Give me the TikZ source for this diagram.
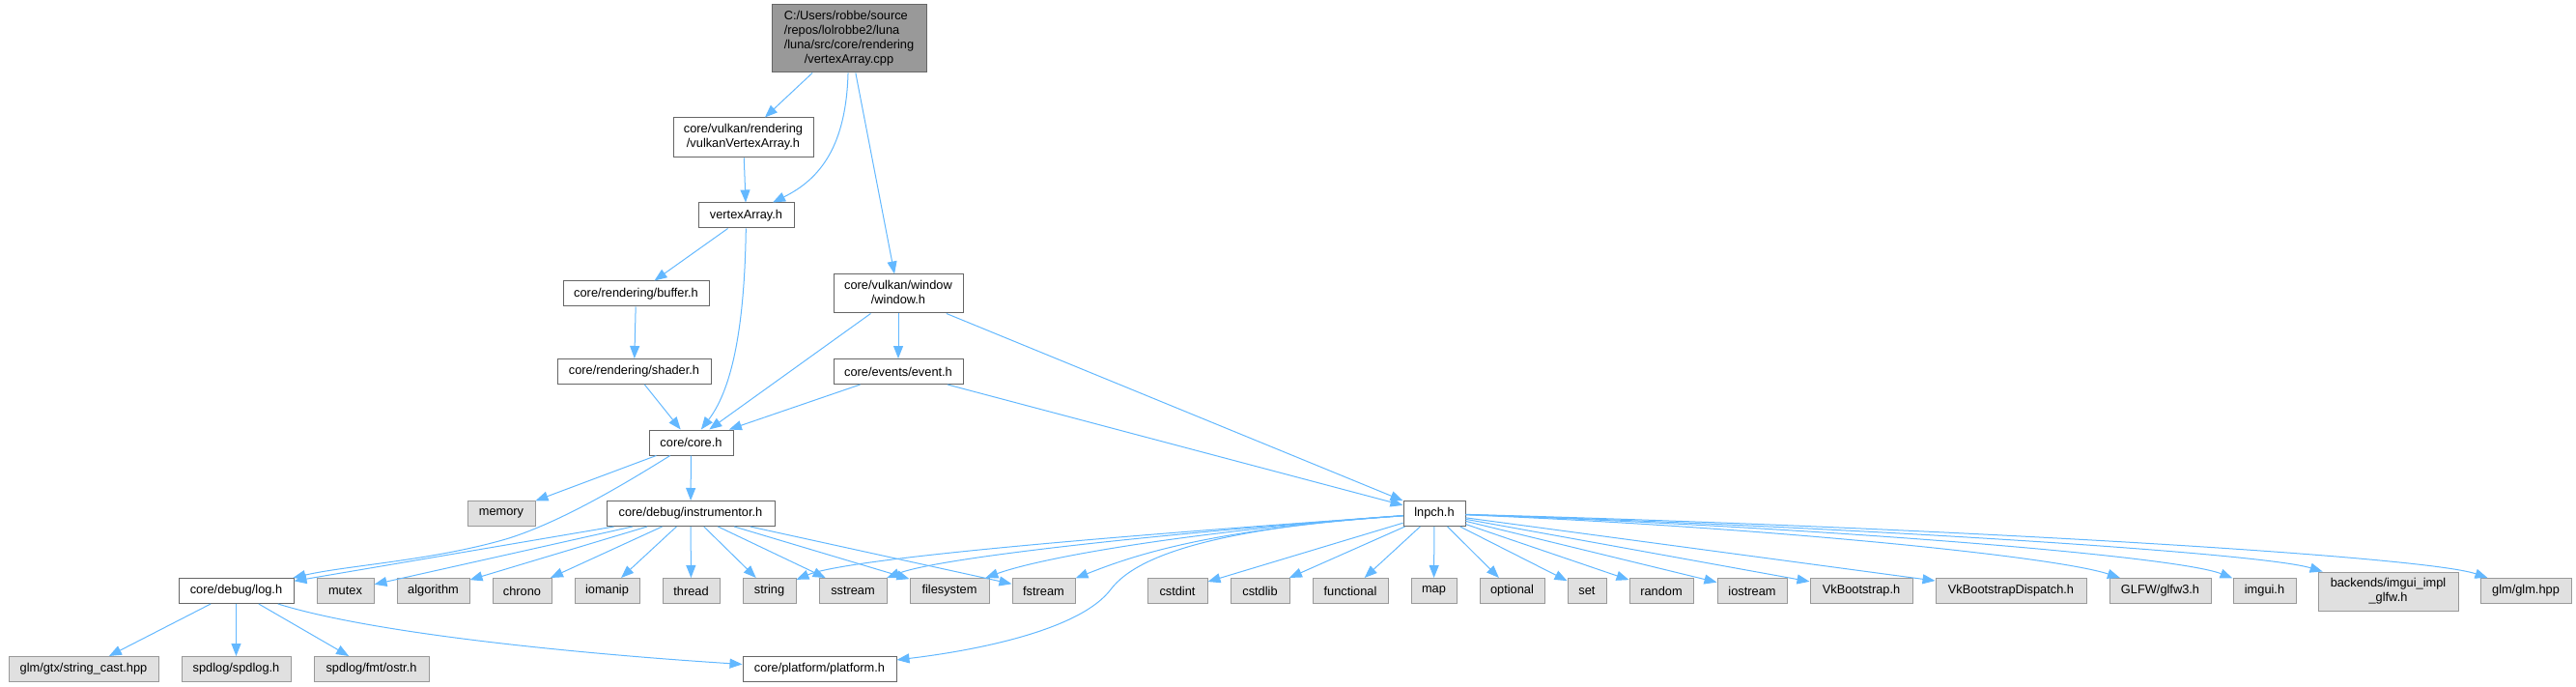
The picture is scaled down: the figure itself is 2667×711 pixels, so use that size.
\documentclass[tikz,border=0pt]{standalone}
\usepackage{fontspec}
\setmainfont{Liberation Sans}
\usetikzlibrary{arrows.meta}

\definecolor{edgeblue}{HTML}{63B8FF}
\definecolor{boxline}{HTML}{666666}
\definecolor{extline}{HTML}{999999}
\definecolor{extfill}{HTML}{E0E0E0}
\definecolor{srcfill}{HTML}{999999}

\tikzset{
  localinc/.style={draw=boxline, fill=white, line width=1pt, inner sep=0pt,
    minimum height=26pt, font=\fontsize{12.8}{15}\selectfont},
  sysinc/.style={localinc, draw=extline, fill=extfill},
  srcfile/.style={localinc, fill=srcfill},
  dep/.style={draw=edgeblue, line width=1pt, -{Triangle[length=13pt,width=10pt]}},
}

\begin{document}
\begin{tikzpicture}[x=1pt, y=-1pt]
    \useasboundingbox (0,0) rectangle (2667,711);

    % 源文件与项目内头文件
    \node[srcfile, minimum width=160pt, minimum height=70pt] (root) at (879,40)
      {\begin{tabular}{@{}l@{}}C:/Users/robbe/source\\/repos/lolrobbe2/luna\\/luna/src/core/rendering\\\multicolumn{1}{@{}c@{}}{/vertexArray.cpp}\end{tabular}};
    \node[localinc, minimum width=145pt, minimum height=41pt] (vva) at (769.5,142.5)
      {\begin{tabular}{@{}l@{}}core/vulkan/rendering\\\multicolumn{1}{@{}c@{}}{/vulkanVertexArray.h}\end{tabular}};
    \node[localinc, minimum width=99pt] (va) at (772.5,223) {vertexArray.h};
    \node[localinc, minimum width=151pt] (buf) at (658.5,304) {core/rendering/buffer.h};
    \node[localinc, minimum width=159pt] (shd) at (656.5,384.5) {core/rendering/shader.h};
    \node[localinc, minimum width=134pt, minimum height=40pt] (win) at (930,304)
      {\begin{tabular}{@{}l@{}}core/vulkan/window\\\multicolumn{1}{@{}c@{}}{/window.h}\end{tabular}};
    \node[localinc, minimum width=134pt] (evt) at (930,384.5) {core/events/event.h};
    \node[localinc, minimum width=87pt] (core) at (715.5,458) {core/core.h};
    \node[sysinc, minimum width=70pt] (mem) at (519,531.5) {memory};
    \node[localinc, minimum width=174pt] (instr) at (715,531.5) {core/debug/instrumentor.h};
    \node[localinc, minimum width=64pt] (lnpch) at (1485,531.5) {lnpch.h};

    % 第二层头文件
    \node[localinc, minimum width=119pt] (log) at (244.5,611.5) {core/debug/log.h};
    \node[sysinc, minimum width=59pt] (mutex) at (357.5,611.5) {mutex};
    \node[sysinc, minimum width=75pt] (algo) at (448.5,611.5) {algorithm};
    \node[sysinc, minimum width=61pt] (chrono) at (540.5,611.5) {chrono};
    \node[sysinc, minimum width=67pt] (ioman) at (628.5,611.5) {iomanip};
    \node[sysinc, minimum width=59pt] (thread) at (715.5,611.5) {thread};
    \node[sysinc, minimum width=55pt] (str) at (796.5,611.5) {string};
    \node[sysinc, minimum width=70pt] (sstr) at (883,611.5) {sstream};
    \node[sysinc, minimum width=82pt] (fsys) at (983,611.5) {filesystem};
    \node[sysinc, minimum width=65pt] (fstr) at (1080.5,611.5) {fstream};
    \node[sysinc, minimum width=62pt] (cint) at (1219,611.5) {cstdint};
    \node[sysinc, minimum width=61pt] (clib) at (1304.5,611.5) {cstdlib};
    \node[sysinc, minimum width=78pt] (func) at (1398,611.5) {functional};
    \node[sysinc, minimum width=47pt] (stdmap) at (1484.5,611.5) {map};
    \node[sysinc, minimum width=67pt] (optl) at (1565.5,611.5) {optional};
    \node[sysinc, minimum width=40pt] (stdset) at (1643,611.5) {set};
    \node[sysinc, minimum width=66pt] (rnd) at (1720,611.5) {random};
    \node[sysinc, minimum width=72pt] (iostr) at (1814,611.5) {iostream};
    \node[sysinc, minimum width=106pt] (vkb) at (1927,611.5) {VkBootstrap.h};
    \node[sysinc, minimum width=156pt] (vkbd) at (2082,611.5) {VkBootstrapDispatch.h};
    \node[sysinc, minimum width=105pt] (glfw) at (2236.5,611.5) {GLFW/glfw3.h};
    \node[sysinc, minimum width=65pt] (imgui) at (2344.5,611.5) {imgui.h};
    \node[sysinc, minimum width=145pt, minimum height=40pt] (imglfw) at (2472.5,612)
      {\begin{tabular}{@{}l@{}}backends/imgui\_impl\\\multicolumn{1}{@{}c@{}}{\_glfw.h}\end{tabular}};
    \node[sysinc, minimum width=94pt] (glm) at (2615,611.5) {glm/glm.hpp};

    % 最底层
    \node[sysinc, minimum width=155pt] (gtx) at (86.5,692.5) {glm/gtx/string\_cast.hpp};
    \node[sysinc, minimum width=113pt] (spd) at (244.5,692.5) {spdlog/spdlog.h};
    \node[sysinc, minimum width=119pt] (ostr) at (384.5,692.5) {spdlog/fmt/ostr.h};
    \node[localinc, minimum width=159pt] (plat) at (848.5,692.5) {core/platform/platform.h};

    % 上部依赖
    \draw[dep] (root) -- (vva);
    \draw[dep] (root) .. controls (876,150) and (850,185) .. (va);
    \draw[dep] (root) -- (win);
    \draw[dep] (vva) -- (va);
    \draw[dep] (va) -- (buf);
    \draw[dep] (va) .. controls (771,330) and (760,400) .. (core);
    \draw[dep] (buf) -- (shd);
    \draw[dep] (shd) -- (core);
    \draw[dep] (win) -- (core);
    \draw[dep] (win) -- (evt);
    \draw[dep] (win) -- (lnpch);
    \draw[dep] (evt) -- (core);
    \draw[dep] (evt) -- (lnpch);

    % core.h 与 instrumentor.h
    \draw[dep] (core) -- (mem);
    \draw[dep] (core) .. controls (640,505) and (580,540) .. (527,557)
                      .. controls (450,580) and (360,585) .. (log);
    \draw[dep] (core) -- (instr);
    \draw[dep] (instr) -- (log);
    \draw[dep] (instr) -- (mutex);
    \draw[dep] (instr) -- (algo);
    \draw[dep] (instr) -- (chrono);
    \draw[dep] (instr) -- (ioman);
    \draw[dep] (instr) -- (thread);
    \draw[dep] (instr) -- (str);
    \draw[dep] (instr) -- (sstr);
    \draw[dep] (instr) -- (fsys);
    \draw[dep] (instr) -- (fstr);

    % log.h
    \draw[dep] (log) -- (gtx);
    \draw[dep] (log) -- (spd);
    \draw[dep] (log) -- (ostr);
    \draw[dep] (log) .. controls (400,660) and (650,680) .. (plat);

    % lnpch.h
    \draw[dep] (lnpch) .. controls (1250,548) and (884,575) .. (str);
    \draw[dep] (lnpch) .. controls (1250,548) and (978,575) .. (sstr);
    \draw[dep] (lnpch) .. controls (1250,548) and (1084,575) .. (fsys);
    \draw[dep] (lnpch) .. controls (1250,548) and (1173,575) .. (fstr);
    \draw[dep] (lnpch) .. controls (1280,545) and (1180,570) .. (1150,610)
                       .. controls (1120,650) and (1020,672) .. (plat);
    \draw[dep] (lnpch) -- (cint);
    \draw[dep] (lnpch) -- (clib);
    \draw[dep] (lnpch) -- (func);
    \draw[dep] (lnpch) -- (stdmap);
    \draw[dep] (lnpch) -- (optl);
    \draw[dep] (lnpch) -- (stdset);
    \draw[dep] (lnpch) -- (rnd);
    \draw[dep] (lnpch) -- (iostr);
    \draw[dep] (lnpch) -- (vkb);
    \draw[dep] (lnpch) -- (vkbd);
    \draw[dep] (lnpch) .. controls (1817,545) and (2124,575) .. (glfw);
    \draw[dep] (lnpch) .. controls (1875,545) and (2252,575) .. (imgui);
    \draw[dep] (lnpch) .. controls (1914,545) and (2340,572) .. (imglfw);
    \draw[dep] (lnpch) .. controls (1990,545) and (2508,575) .. (glm);
\end{tikzpicture}
\end{document}
